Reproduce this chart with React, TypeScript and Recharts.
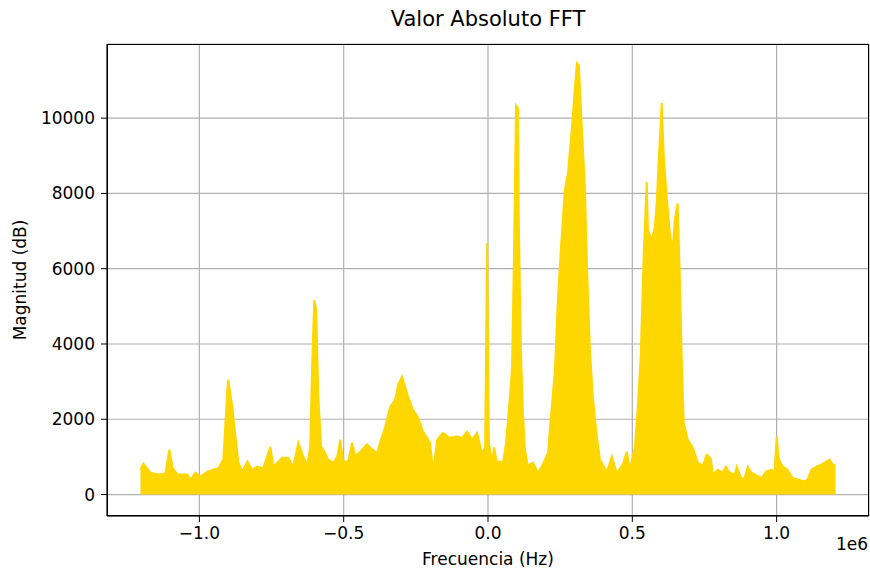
import { AreaChart, Area, XAxis, YAxis, CartesianGrid } from "recharts";

// frequency in units of 1e6 Hz (envelope of the FFT magnitude)
const FREQ = [
  -1.204, -1.194, -1.17, -1.142, -1.118, -1.104, -1.093, -1.076, -1.042, -1.031,
  -1.014, -0.997, -0.972, -0.952, -0.934, -0.917, -0.903, -0.9, -0.886, -0.875,
  -0.865, -0.851, -0.834, -0.817, -0.799, -0.779, -0.754, -0.744, -0.713, -0.692,
  -0.675, -0.657, -0.64, -0.626, -0.616, -0.609, -0.602, -0.595, -0.588, -0.578,
  -0.571, -0.554, -0.536, -0.522, -0.512, -0.502, -0.484, -0.471, -0.46, -0.443,
  -0.419, -0.401, -0.384, -0.374, -0.356, -0.339, -0.322, -0.311, -0.298, -0.287,
  -0.277, -0.26, -0.242, -0.225, -0.211, -0.201, -0.19, -0.176, -0.156, -0.131,
  -0.107, -0.09, -0.073, -0.055, -0.038, -0.021, -0.01, -0.003, 0.003, 0.014,
  0.021, 0.031, 0.042, 0.052, 0.062, 0.073, 0.083, 0.09, 0.097, 0.104,
  0.107, 0.114, 0.121, 0.128, 0.138, 0.156, 0.173, 0.19, 0.208, 0.215,
  0.232, 0.242, 0.253, 0.266, 0.277, 0.291, 0.301, 0.308, 0.315, 0.325,
  0.336, 0.343, 0.353, 0.363, 0.377, 0.388, 0.412, 0.429, 0.446, 0.467,
  0.481, 0.491, 0.509, 0.519, 0.529, 0.536, 0.54, 0.55, 0.554, 0.567,
  0.578, 0.585, 0.592, 0.602, 0.609, 0.619, 0.63, 0.64, 0.647, 0.657,
  0.664, 0.671, 0.678, 0.692, 0.709, 0.727, 0.744, 0.758, 0.772, 0.779,
  0.796, 0.813, 0.824, 0.837, 0.855, 0.862, 0.879, 0.889, 0.9, 0.913,
  0.931, 0.948, 0.965, 0.983, 0.993, 1.0, 1.007, 1.021, 1.038, 1.055,
  1.073, 1.097, 1.107, 1.121, 1.138, 1.156, 1.166, 1.183, 1.194, 1.204,
];

const MAG = [
  660, 820, 580, 530, 560, 1190, 720, 530, 530, 400,
  580, 480, 610, 660, 700, 930, 2790, 3050, 2330, 1540,
  850, 610, 880, 660, 740, 700, 1270, 740, 980, 980,
  740, 1380, 1010, 800, 1270, 3500, 5170, 4900, 2600, 1270,
  1200, 930, 840, 1010, 1460, 880, 880, 1380, 1010, 1140,
  1330, 1200, 1100, 1380, 1800, 2330, 2520, 2920, 3130, 2860,
  2600, 2250, 2040, 1670, 1500, 1380, 610, 1460, 1640, 1500,
  1550, 1500, 1670, 1460, 1640, 1100, 1250, 6680, 1380, 850,
  1250, 850, 880, 850, 1330, 2330, 3320, 6310, 10340, 10260,
  7110, 3850, 2170, 1190, 770, 850, 580, 800, 1110, 1800,
  3320, 5170, 6580, 8090, 8540, 9760, 10820, 11460, 11400, 9760,
  8090, 6050, 3850, 2600, 1540, 930, 600, 1010, 570, 800,
  1140, 650, 1270, 2330, 3660, 5440, 6500, 8300, 7030, 6760,
  7110, 7820, 8970, 10400, 8970, 7900, 6950, 6500, 7290, 7740,
  5970, 3660, 1910, 1460, 1250, 850, 770, 1060, 960, 530,
  660, 580, 740, 580, 530, 740, 400, 440, 740, 580,
  510, 440, 620, 660, 620, 1540, 960, 740, 660, 440,
  400, 350, 400, 660, 740, 800, 850, 930, 800, 760,
];

const X_TICKS = [-1.0, -0.5, 0.0, 0.5, 1.0];
const Y_TICKS = [0, 2000, 4000, 6000, 8000, 10000];

const data = FREQ.map((f, i) => ({ f, mag: MAG[i] }));

const GOLD = "#FFD700";
const FONT = "'DejaVu Sans', sans-serif";

const fmtX = (v: number) => v.toFixed(1).replace("-", "\u2212");

export default function App() {
  return (
    <div style={{ position: "absolute", left: 0, top: 0, width: 870, height: 574, background: "#fff", fontFamily: FONT }}>
      <AreaChart
        width={870}
        height={574}
        data={data}
        margin={{ top: 44, right: 1, bottom: 0, left: 7 }}
      >
        <CartesianGrid stroke="#b0b0b0" strokeWidth={1.2} />
        <XAxis
          dataKey="f"
          type="number"
          domain={[-1.32, 1.32]}
          ticks={X_TICKS}
          allowDataOverflow
          tickFormatter={fmtX}
          height={58}
          tickSize={6}
          tickMargin={5}
          stroke="#000"
          tick={{ fill: "#000", fontSize: 17, fontFamily: FONT }}
        />
        <YAxis
          type="number"
          domain={[-570, 11970]}
          ticks={Y_TICKS}
          allowDataOverflow
          width={100}
          tickSize={6}
          tickMargin={6}
          stroke="#000"
          tick={{ fill: "#000", fontSize: 17, fontFamily: FONT }}
        />
        <Area
          dataKey="mag"
          type="linear"
          baseValue={0}
          stroke={GOLD}
          strokeWidth={2}
          fill={GOLD}
          fillOpacity={1}
          isAnimationActive={false}
          dot={false}
          activeDot={false}
        />
      </AreaChart>
      {/* axes box */}
      <div style={{ position: "absolute", left: 107, top: 44, width: 762, height: 472, boxSizing: "border-box", border: "1.3px solid #000", pointerEvents: "none" }} />
      <div style={{ position: "absolute", left: 107, width: 762, top: 7, textAlign: "center", fontSize: 21, color: "#000" }}>
        Valor Absoluto FFT
      </div>
      <div style={{ position: "absolute", left: 107, width: 762, top: 549, textAlign: "center", fontSize: 17, color: "#000" }}>
        Frecuencia (Hz)
      </div>
      <div style={{ position: "absolute", left: 836, top: 534, fontSize: 17, color: "#000" }}>1e6</div>
      <div
        style={{
          position: "absolute",
          left: 20,
          top: 280,
          transform: "translate(-50%, -50%) rotate(-90deg)",
          whiteSpace: "nowrap",
          fontSize: 17,
          color: "#000",
        }}
      >
        Magnitud (dB)
      </div>
    </div>
  );
}
